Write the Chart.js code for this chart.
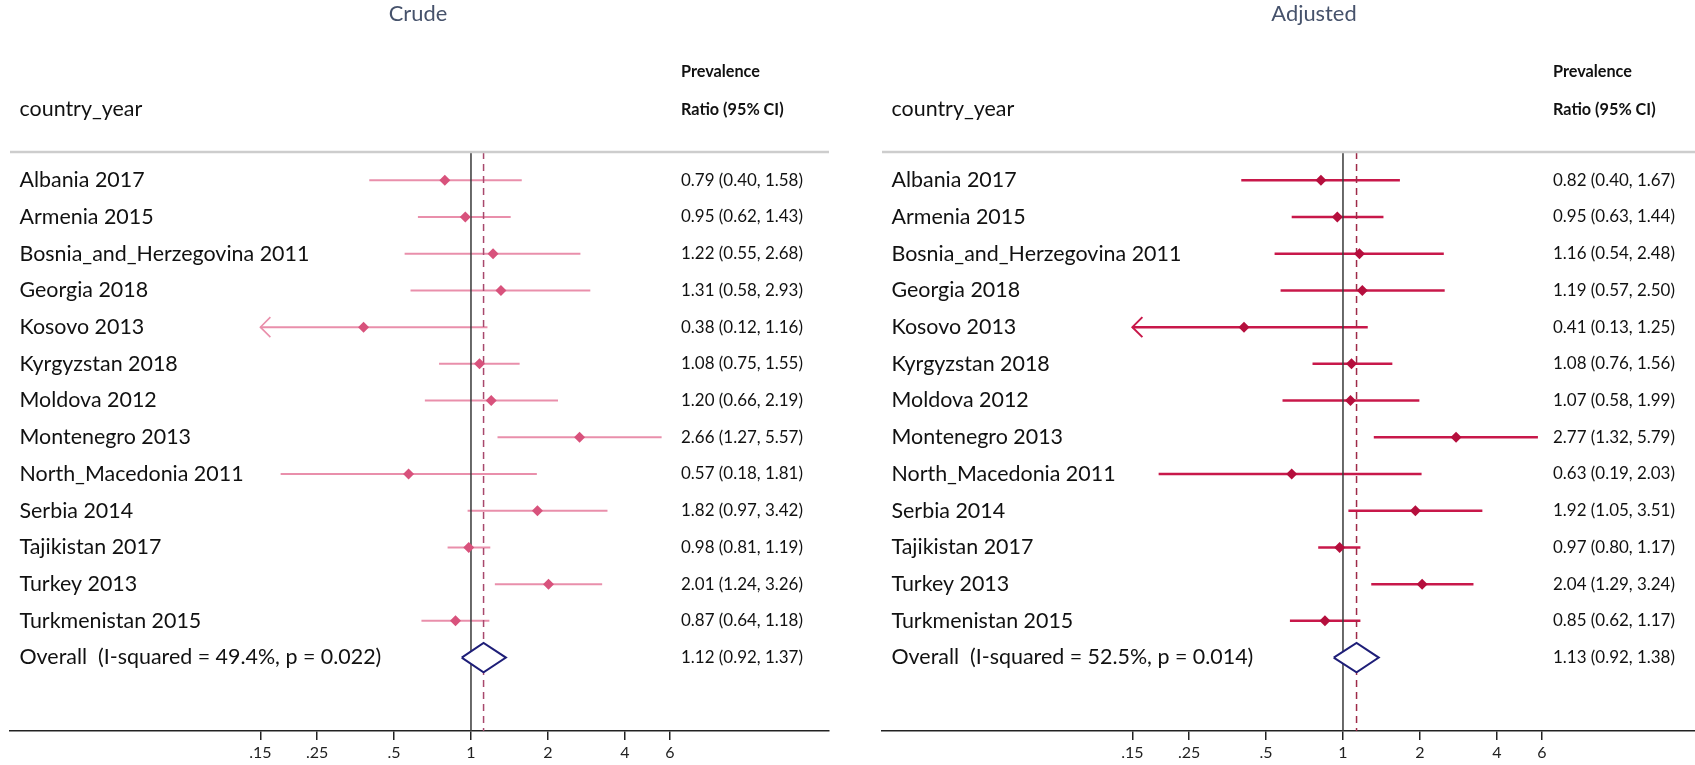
<!DOCTYPE html>
<html>
<head>
<meta charset="utf-8">
<script src="https://cdn.jsdelivr.net/npm/chart.js@4.4.1/dist/chart.umd.min.js"></script>
<style>
  html, body { margin: 0; padding: 0; background: #fff; width: 1695px; height: 765px; overflow: hidden; }
  #wrap { position: relative; width: 1695px; height: 765px; overflow: hidden; }
  canvas { position: absolute; top: 0; }
</style>
</head>
<body>
<div id="wrap">
  <canvas id="crude" width="850" height="765" style="left:0px"></canvas>
  <canvas id="adjusted" width="850" height="765" style="left:872px"></canvas>
</div>
<script>
// ---------------- DATA ----------------
const categories = [
  'Albania 2017', 'Armenia 2015', 'Bosnia_and_Herzegovina 2011', 'Georgia 2018',
  'Kosovo 2013', 'Kyrgyzstan 2018', 'Moldova 2012', 'Montenegro 2013',
  'North_Macedonia 2011', 'Serbia 2014', 'Tajikistan 2017', 'Turkey 2013',
  'Turkmenistan 2015'
];
const crudeEst = [0.79, 0.95, 1.22, 1.31, 0.38, 1.08, 1.20, 2.66, 0.57, 1.82, 0.98, 2.01, 0.87];
const crudeLo  = [0.40, 0.62, 0.55, 0.58, 0.12, 0.75, 0.66, 1.27, 0.18, 0.97, 0.81, 1.24, 0.64];
const crudeHi  = [1.58, 1.43, 2.68, 2.93, 1.16, 1.55, 2.19, 5.57, 1.81, 3.42, 1.19, 3.26, 1.18];

const adjEst = [0.82, 0.95, 1.16, 1.19, 0.41, 1.08, 1.07, 2.77, 0.63, 1.92, 0.97, 2.04, 0.85];
const adjLo  = [0.40, 0.63, 0.54, 0.57, 0.13, 0.76, 0.58, 1.32, 0.19, 1.05, 0.80, 1.29, 0.62];
const adjHi  = [1.67, 1.44, 2.48, 2.50, 1.25, 1.56, 1.99, 5.79, 2.03, 3.51, 1.17, 3.24, 1.17];

const panelTitles = ['Crude', 'Adjusted'];
const overallEst = [1.12, 1.13];
const overallLo  = [0.92, 0.92];
const overallHi  = [1.37, 1.38];
const iSquared   = [49.4, 52.5];
const pValues    = ['0.022', '0.014'];

const tickValues = [0.15, 0.25, 0.5, 1, 2, 4, 6];
const tickLabels = ['.15', '.25', '.5', '1', '2', '4', '6'];

// ---------------- CHART BUILDER ----------------
const FAMILY = 'Lato, "Open Sans", sans-serif';

function fitSize(ctx, text, weight, target, base) {
  ctx.font = weight + ' ' + base + 'px ' + FAMILY;
  const w = ctx.measureText(text).width;
  return base * target / w;
}
function fmt(v) { return v.toFixed(2); }

function makePanel(id, p) {
  const n = categories.length;
  const overallRow = n;
  const yMin = -0.77, yMax = 15.0;
  const clipMin = tickValues[0];

  const datasets = [];
  // reference line at 1
  datasets.push({
    data: [{x: 1, y: yMin}, {x: 1, y: yMax}],
    showLine: true, borderColor: '#3a3a3a', borderWidth: 1.5,
    pointRadius: 0, order: 1
  });
  // dashed line at overall estimate
  datasets.push({
    data: [{x: p.oEst, y: yMin}, {x: p.oEst, y: yMax}],
    showLine: true, borderColor: p.dashColor, borderWidth: 1.5, borderDash: [7, 5],
    pointRadius: 0, order: 1
  });
  // overall diamond (white fill hides reference lines)
  const h = 0.4;
  datasets.push({
    data: [
      {x: p.oLo, y: overallRow}, {x: p.oEst, y: overallRow - h},
      {x: p.oHi, y: overallRow}, {x: p.oEst, y: overallRow + h},
      {x: p.oLo, y: overallRow}
    ],
    showLine: true, borderColor: '#1e1e78', borderWidth: 2, borderJoinStyle: 'miter',
    backgroundColor: '#ffffff', fill: 'shape', pointRadius: 0, order: 0
  });
  // point estimates
  datasets.push({
    data: p.est.map((v, i) => ({x: v, y: i})),
    showLine: false, pointStyle: 'rectRot', pointRadius: p.markerR,
    pointBackgroundColor: p.markerColor, pointBorderColor: p.markerColor, pointBorderWidth: 0,
    order: 0
  });
  // confidence intervals
  for (let i = 0; i < n; i++) {
    datasets.push({
      data: [{x: Math.max(p.lo[i], clipMin), y: i}, {x: p.hi[i], y: i}],
      showLine: true, borderColor: p.ciColor, borderWidth: p.ciWidth,
      pointRadius: 0, order: 2
    });
  }

  const textPlugin = {
    id: 'forestText',
    afterDatasetsDraw(chart) {
      const ctx = chart.ctx;
      const xs = chart.scales.x, ys = chart.scales.y;
      const area = chart.chartArea;
      ctx.save();
      // arrows for clipped intervals
      ctx.strokeStyle = p.ciColor;
      ctx.lineWidth = p.ciWidth * 0.8;
      for (let i = 0; i < n; i++) {
        if (p.lo[i] < clipMin) {
          const x = xs.getPixelForValue(clipMin), y = ys.getPixelForValue(i);
          ctx.beginPath();
          ctx.moveTo(x + 10, y - 10); ctx.lineTo(x, y); ctx.lineTo(x + 10, y + 10);
          ctx.stroke();
        }
      }
      // header separator line
      ctx.strokeStyle = '#cdcdcd';
      ctx.lineWidth = 2.5;
      ctx.beginPath();
      ctx.moveTo(area.left, area.top); ctx.lineTo(area.right, area.top);
      ctx.stroke();

      const labelSize = fitSize(ctx, 'Bosnia_and_Herzegovina 2011', 'normal', 290, 20);
      const valSize = fitSize(ctx, '0.79 (0.40, 1.58)', 'normal', 122, 15);
      const headSize = fitSize(ctx, 'Prevalence', 'bold', 79, 15);

      // title
      ctx.fillStyle = '#46526b';
      ctx.font = 'normal ' + (labelSize * 1.02).toFixed(2) + 'px ' + FAMILY;
      ctx.textAlign = 'center';
      ctx.textBaseline = 'middle';
      ctx.fillText(p.title, p.titleX, 14);

      // column headers
      ctx.fillStyle = '#111';
      ctx.textAlign = 'left';
      ctx.font = 'normal ' + labelSize.toFixed(2) + 'px ' + FAMILY;
      ctx.fillText('country_year', 19.5, 109);
      ctx.font = 'bold ' + headSize.toFixed(2) + 'px ' + FAMILY;
      ctx.fillText('Prevalence', 681, 72);
      ctx.fillText('Ratio (95% CI)', 681, 110);

      // row labels and values
      for (let i = 0; i <= n; i++) {
        const y = ys.getPixelForValue(i);
        const label = i < n ? categories[i]
          : 'Overall  (I-squared = ' + p.iSq.toFixed(1) + '%, p = ' + p.pv + ')';
        const val = i < n ? fmt(p.est[i]) + ' (' + fmt(p.lo[i]) + ', ' + fmt(p.hi[i]) + ')'
          : fmt(p.oEst) + ' (' + fmt(p.oLo) + ', ' + fmt(p.oHi) + ')';
        ctx.font = 'normal ' + labelSize.toFixed(2) + 'px ' + FAMILY;
        ctx.fillText(label, 19.5, y);
        ctx.font = 'normal ' + valSize.toFixed(2) + 'px ' + FAMILY;
        ctx.fillText(val, 681, y);
      }
      ctx.restore();
    }
  };

  return new Chart(document.getElementById(id), {
    type: 'scatter',
    data: { datasets },
    options: {
      responsive: false,
      animation: false,
      events: [],
      layout: { padding: { top: 152, left: 10, right: 21, bottom: 0 } },
      plugins: { legend: { display: false }, tooltip: { enabled: false }, title: { display: false } },
      scales: {
        x: {
          type: 'logarithmic',
          bounds: 'data',
          min: 0.01572, max: 25.16,
          afterBuildTicks(scale) { scale.ticks = tickValues.map(v => ({ value: v })); },
          afterFit(scale) { scale.height = 34; },
          grid: { drawOnChartArea: false, drawTicks: true, tickLength: 9, color: '#222', lineWidth: 1.5 },
          border: { display: true, color: '#222', width: 1.5 },
          ticks: {
            autoSkip: false, maxRotation: 0, padding: 3, color: '#222',
            font: { family: FAMILY, size: 16 },
            callback: (v) => { const k = tickValues.indexOf(v); return k >= 0 ? tickLabels[k] : ''; }
          }
        },
        y: {
          type: 'linear', display: false, reverse: true, min: yMin, max: yMax
        }
      }
    },
    plugins: [textPlugin]
  });
}

makePanel('crude', {
  title: panelTitles[0], titleX: 418,
  est: crudeEst, lo: crudeLo, hi: crudeHi,
  oEst: overallEst[0], oLo: overallLo[0], oHi: overallHi[0], iSq: iSquared[0], pv: pValues[0],
  ciColor: '#e98fab', ciWidth: 2, markerColor: '#d8527c', markerR: 5.5, dashColor: '#a8486c'
});
makePanel('adjusted', {
  title: panelTitles[1], titleX: 442,
  est: adjEst, lo: adjLo, hi: adjHi,
  oEst: overallEst[1], oLo: overallLo[1], oHi: overallHi[1], iSq: iSquared[1], pv: pValues[1],
  ciColor: '#c8184a', ciWidth: 2.5, markerColor: '#b50f3d', markerR: 5.5, dashColor: '#9e2a48'
});
</script>
</body>
</html>
